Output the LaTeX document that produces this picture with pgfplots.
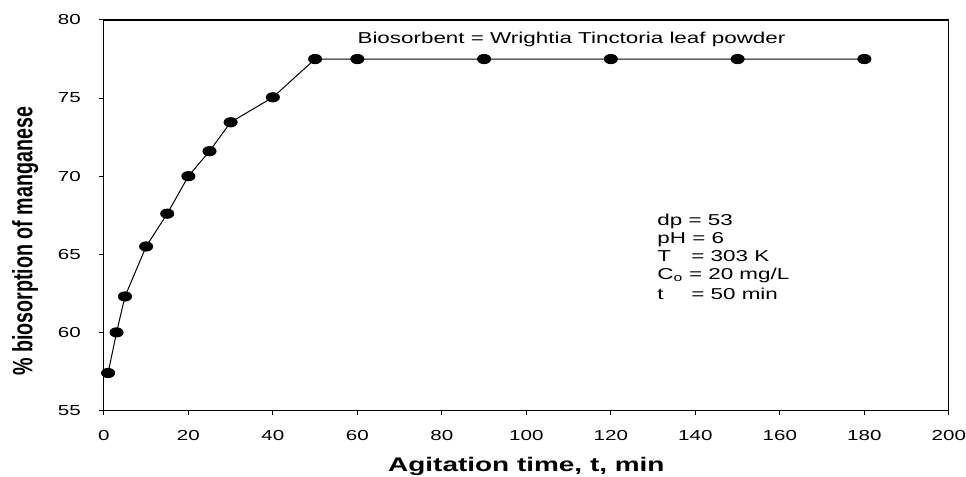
\documentclass[border=0pt]{standalone}
\usepackage{fontspec}
\setmainfont{Liberation Sans}[FakeStretch=1.42]
\newfontfamily\ylabfont{Liberation Sans}
\usepackage{pgfplots}
\pgfplotsset{compat=1.18}
\begin{document}
\begin{tikzpicture}
\begin{axis}[
  scale only axis, width=846pt, height=391pt,
  xmin=0, xmax=200, ymin=55, ymax=80,
  xtick={0,20,...,200}, ytick={55,60,...,80},
  tick align=outside, tick pos=left, major tick length=5pt,
  axis line style={line width=1.1pt},
  every tick/.style={black, line width=1pt},
  /pgf/number format/assume math mode=true,
  ticklabel style={font=\fontsize{14.5}{15}\selectfont, inner sep=0pt},
  xticklabel style={anchor=north, yshift=-15pt},
  yticklabel style={anchor=east, xshift=-18pt},
  xlabel={Agitation time, t, min},
  xlabel style={font=\fontsize{19.7}{20}\selectfont\bfseries, inner sep=0pt,
    at={(axis description cs:0.5,0)}, anchor=base, yshift=-61pt},
  ylabel={\scalebox{1}[1.42]{\ylabfont\fontsize{19.7}{20}\selectfont\bfseries \% biosorption of manganese}},
  ylabel style={inner sep=0pt, at={(axis description cs:-0.0845,0.4335)}, anchor=base},
]
\addplot[black, line width=1pt, mark=*, mark size=4.6pt,
  mark options={xscale=1.42, fill=black}] coordinates {
  (1,57.4) (3,60.0) (5,62.3) (10,65.5) (15,67.6) (20,70.0) (25,71.6)
  (30,73.45) (40,75.05) (50,77.5) (60,77.5) (90,77.5) (120,77.5)
  (150,77.5) (180,77.5)
};
\node[anchor=base west, inner sep=0pt, font=\fontsize{15.8}{18}\selectfont]
  at (axis cs:60,78.47) {Biosorbent = Wrightia Tinctoria leaf powder};
\node[anchor=base west, inner sep=0pt, font=\fontsize{15.8}{18}\selectfont]
  at (axis cs:130.97,66.83) {\begin{tabular}[t]{@{}l@{}}
    dp = 53\\
    pH = 6\\
    \makebox[34pt][l]{T}= 303 K\\
    C\textsubscript{o} = 20 mg/L\\[2pt]
    \makebox[34pt][l]{t}= 50 min
  \end{tabular}};
\end{axis}
\path (current axis.south west) ++(-104pt,-66pt) rectangle ([shift={(16pt,20pt)}]current axis.north east);
\end{tikzpicture}
\end{document}
